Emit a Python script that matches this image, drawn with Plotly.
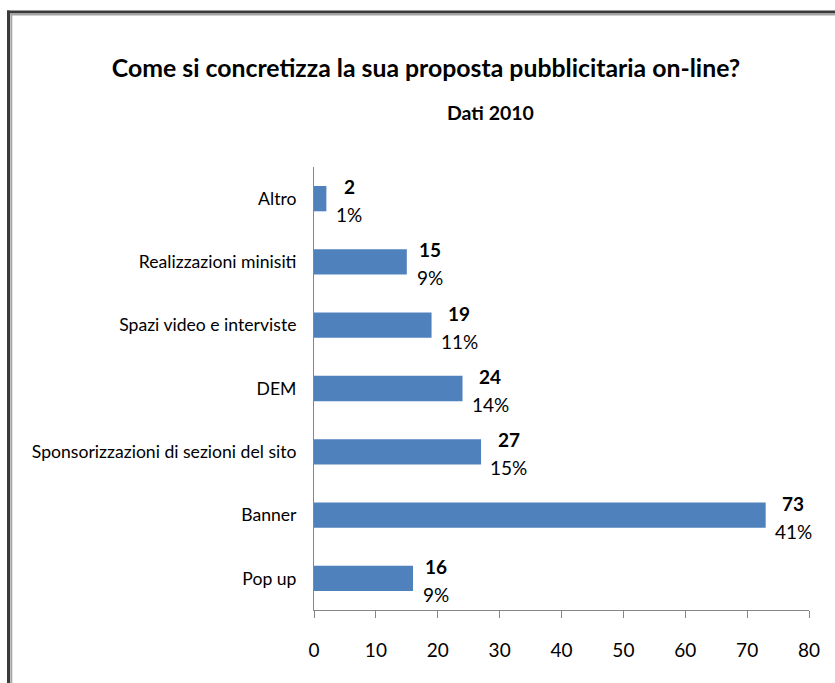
import plotly.graph_objects as go

# Survey answers (top to bottom as displayed)
categories = [
    "Altro",
    "Realizzazioni minisiti",
    "Spazi video e interviste",
    "DEM",
    "Sponsorizzazioni di sezioni del sito",
    "Banner",
    "Pop up",
]
counts = [2, 15, 19, 24, 27, 73, 16]
shares = ["1%", "9%", "11%", "14%", "15%", "41%", "9%"]
x_ticks = [0, 10, 20, 30, 40, 50, 60, 70, 80]

FONT = "Lato, sans-serif"
BAR = "#4F81BD"
AXIS = "#868686"

W, H = 835, 683
ML, MR, MT, MB = 314, 26, 167, 73
pw, ph = W - ML - MR, H - MT - MB


def px_x(p):
    """Pixel column -> paper x."""
    return (p - ML) / pw


def px_y(p):
    """Pixel row -> paper y."""
    return (H - MB - p) / ph


fig = go.Figure(
    go.Bar(
        x=counts,
        y=categories,
        orientation="h",
        width=0.4,
        marker=dict(color=BAR, line=dict(width=0)),
        hoverinfo="skip",
    )
)

# Value (bold) over percentage, centred in a block just right of the bar
annotations = []
for cat, n, pct in zip(categories, counts, shares):
    block_w = 9.5 * (len(pct) - 1) + 14
    xs = 11 + block_w / 2
    annotations.append(dict(
        x=n, y=cat, xref="x", yref="y", text=f"<b>{n}</b>",
        showarrow=False, xanchor="center", yanchor="middle",
        xshift=xs, yshift=12, font=dict(family=FONT, size=19, color="#000000"),
    ))
    annotations.append(dict(
        x=n, y=cat, xref="x", yref="y", text=pct,
        showarrow=False, xanchor="center", yanchor="middle",
        xshift=xs, yshift=-16, font=dict(family=FONT, size=19, color="#000000"),
    ))

# Subtitle
annotations.append(dict(
    x=px_x(490), y=px_y(112), xref="paper", yref="paper", text="<b>Dati 2010</b>",
    showarrow=False, xanchor="center", yanchor="middle",
    font=dict(family=FONT, size=19.5, color="#000000"),
))

# Double frame along the top and left edges
shapes = [
    dict(type="line", xref="paper", yref="paper", x0=px_x(7), x1=px_x(W + 5),
         y0=px_y(12), y1=px_y(12), line=dict(color="#3a3a3a", width=3)),
    dict(type="line", xref="paper", yref="paper", x0=px_x(10.5), x1=px_x(W + 5),
         y0=px_y(14.5), y1=px_y(14.5), line=dict(color="#a6a6a6", width=2)),
    dict(type="line", xref="paper", yref="paper", x0=px_x(8.5), x1=px_x(8.5),
         y0=px_y(10.5), y1=px_y(H + 5), line=dict(color="#3a3a3a", width=3)),
    dict(type="line", xref="paper", yref="paper", x0=px_x(11.3), x1=px_x(11.3),
         y0=px_y(13.5), y1=px_y(H + 5), line=dict(color="#a6a6a6", width=2)),
]

fig.update_layout(
    width=W,
    height=H,
    margin=dict(l=ML, r=MR, t=MT, b=MB, autoexpand=False),
    paper_bgcolor="white",
    plot_bgcolor="white",
    showlegend=False,
    title=dict(
        text="<b>Come si concretizza la sua proposta pubblicitaria on-line?</b>",
        x=426 / W, y=1 - 68 / H, xanchor="center", yanchor="middle",
        font=dict(family=FONT, size=24.8, color="#000000"),
    ),
    annotations=annotations,
    shapes=shapes,
    xaxis=dict(
        range=[0, 80],
        tickvals=x_ticks,
        ticktext=[str(v) for v in x_ticks],
        showgrid=False,
        zeroline=False,
        showline=True,
        linecolor=AXIS,
        linewidth=1,
        ticks="outside",
        ticklen=7,
        tickcolor=AXIS,
        ticklabelstandoff=16,
        tickfont=dict(family=FONT, size=19, color="#000000"),
        automargin=False,
        fixedrange=True,
    ),
    yaxis=dict(
        autorange="reversed",
        showgrid=False,
        zeroline=False,
        showline=True,
        linecolor=AXIS,
        linewidth=1,
        ticks="",
        ticklabelstandoff=13,
        tickfont=dict(family=FONT, size=17.6, color="#000000"),
        automargin=False,
        fixedrange=True,
    ),
)

fig.write_html("out.html")
